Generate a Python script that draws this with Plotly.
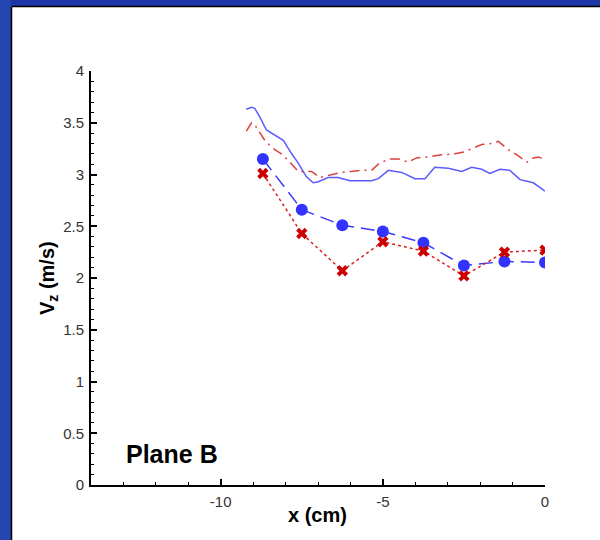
import plotly.graph_objects as go

# Measured points (markers)
x_pts = [-8.7, -7.5, -6.25, -5.0, -3.75, -2.5, -1.25, 0.0]
vz_blue_pts = [3.15, 2.66, 2.51, 2.45, 2.34, 2.12, 2.16, 2.15]
vz_red_pts = [3.01, 2.43, 2.07, 2.35, 2.26, 2.02, 2.25, 2.27]

# Continuous profiles
x_blue_line = [-9.21, -9.05, -8.95, -8.80, -8.59, -8.33, -8.07, -7.81, -7.61, -7.36,
               -7.15, -6.99, -6.69, -6.38, -6.02, -5.71, -5.35, -5.14, -4.83, -4.42,
               -4.01, -3.70, -3.40, -2.98, -2.57, -2.26, -1.95, -1.70, -1.39, -1.08,
               -0.77, -0.36, 0.0]
vz_blue_line = [3.63, 3.65, 3.64, 3.56, 3.43, 3.38, 3.33, 3.20, 3.11, 2.98,
                2.92, 2.93, 2.97, 2.97, 2.94, 2.94, 2.94, 2.96, 3.04, 3.02,
                2.96, 2.96, 3.07, 3.06, 3.03, 3.07, 3.05, 3.01, 3.05, 3.04,
                2.95, 2.92, 2.84]

x_red_line = [-9.21, -9.05, -8.95, -8.64, -8.38, -8.13, -7.87, -7.61, -7.20, -6.94,
              -6.69, -6.27, -5.97, -5.71, -5.35, -5.14, -4.83, -4.52, -4.22, -3.96,
              -3.60, -3.19, -2.78, -2.47, -2.26, -1.95, -1.65, -1.44, -1.13, -0.82,
              -0.56, -0.36, -0.20, 0.0]
vz_red_line = [3.42, 3.50, 3.48, 3.33, 3.25, 3.20, 3.12, 3.03, 3.03, 2.97,
               2.99, 3.02, 3.03, 3.04, 3.04, 3.10, 3.15, 3.15, 3.12, 3.16,
               3.17, 3.19, 3.20, 3.22, 3.25, 3.29, 3.30, 3.32, 3.24, 3.18,
               3.12, 3.16, 3.17, 3.14]

x_tick_vals = [-10, -5, 0]
x_tick_text = ["-10", "-5", "0"]

FONT = "Liberation Sans, Arial, sans-serif"
W, H = 600, 540
ML, MR, MT, MB = 91, 55, 71, 55
PW, PH = W - ML - MR, H - MT - MB


def px(x):
    """Pixel column -> paper x."""
    return (x - ML) / PW


def py(y):
    """Pixel row -> paper y."""
    return (H - MB - y) / PH


fig = go.Figure()

fig.add_trace(go.Scatter(
    x=x_blue_line, y=vz_blue_line, mode="lines",
    line=dict(color="#5a5aff", width=1.5), showlegend=False))
fig.add_trace(go.Scatter(
    x=x_red_line, y=vz_red_line, mode="lines",
    line=dict(color="#dd4040", width=1.5, dash="10px,5px,2px,5px"), showlegend=False))
fig.add_trace(go.Scatter(
    x=x_pts, y=vz_blue_pts, mode="lines+markers",
    line=dict(color="#3a3aff", width=1.5, dash="14px,7px"),
    marker=dict(symbol="circle", size=12, color="#3333ff"), showlegend=False))
fig.add_trace(go.Scatter(
    x=x_pts, y=vz_red_pts, mode="lines+markers",
    line=dict(color="#dd2020", width=1.5, dash="dot"),
    marker=dict(symbol="x", size=10, color="#cc0000"), showlegend=False))

# Blue frame around the slide
shapes = [
    dict(type="rect", xref="paper", yref="paper", layer="below",
         x0=px(0), x1=px(W), y0=py(6), y1=py(0),
         fillcolor="#1c36a8", line=dict(width=0)),
    dict(type="rect", xref="paper", yref="paper", layer="below",
         x0=px(0), x1=px(11), y0=py(H), y1=py(0),
         fillcolor="#2346b0", line=dict(width=0)),
    dict(type="line", xref="paper", yref="paper", layer="below",
         x0=px(11.5), x1=px(W), y0=py(6.5), y1=py(6.5),
         line=dict(color="#000000", width=1.5)),
    dict(type="line", xref="paper", yref="paper", layer="below",
         x0=px(11.5), x1=px(11.5), y0=py(H), y1=py(6.5),
         line=dict(color="#000000", width=1.5)),
]

fig.update_layout(
    width=W, height=H,
    margin=dict(l=ML, r=MR, t=MT, b=MB),
    paper_bgcolor="white", plot_bgcolor="white",
    shapes=shapes,
    font=dict(family=FONT, color="#222222"),
    xaxis=dict(
        range=[-14, 0], showgrid=False, zeroline=False,
        showline=True, linecolor="black", linewidth=2,
        ticks="inside", ticklen=6, tickwidth=1.5, tickcolor="black",
        tickmode="array", tickvals=x_tick_vals, ticktext=x_tick_text,
        tickfont=dict(size=15, family=FONT, color="#333333"),
        ticklabelstandoff=2,
        minor=dict(dtick=1, tick0=0, ticks="inside", ticklen=3, tickwidth=1, tickcolor="black"),
    ),
    yaxis=dict(
        range=[0, 4], showgrid=False, zeroline=False,
        showline=True, linecolor="black", linewidth=2,
        ticks="inside", ticklen=6, tickwidth=1.5, tickcolor="black",
        dtick=0.5, tick0=0,
        tickfont=dict(size=15, family=FONT, color="#333333"),
        ticklabelstandoff=2,
        minor=dict(dtick=0.1, tick0=0, ticks="inside", ticklen=3, tickwidth=1, tickcolor="black"),
    ),
    annotations=[
        dict(text="<b>x (cm)</b>", xref="paper", yref="paper", x=px(317), y=py(515),
             xanchor="center", yanchor="middle", showarrow=False,
             font=dict(size=20, family=FONT, color="black")),
        dict(text="<b>V<sub>z</sub> (m/s)</b>", xref="paper", yref="paper",
             x=px(48), y=py(278), textangle=-90,
             xanchor="center", yanchor="middle", showarrow=False,
             font=dict(size=20, family=FONT, color="black")),
        dict(text="<b>Plane B</b>", xref="paper", yref="paper",
             x=px(124), y=py(454),
             xanchor="left", yanchor="middle", showarrow=False,
             font=dict(size=25, family=FONT, color="black")),
    ],
)

fig.write_html("out.html")
